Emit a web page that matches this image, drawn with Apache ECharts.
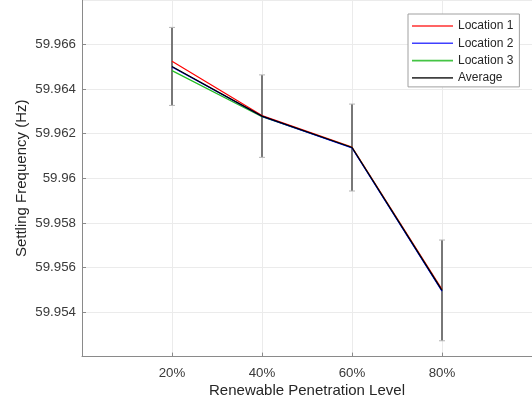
<!DOCTYPE html>
<html>
<head>
<meta charset="utf-8">
<script src="https://cdn.jsdelivr.net/npm/echarts@6/dist/echarts.min.js"></script>
<style>
html,body{margin:0;padding:0;background:#fff;}
#chart{width:532px;height:407px;}
</style>
</head>
<body>
<div id="chart"></div>
<script>
// Data
const categories = ['20%', '40%', '60%', '80%'];
const penetration = [20, 40, 60, 80];
const location1 = [59.96525, 59.96282, 59.96140, 59.95502];
const location2 = [59.96499, 59.96278, 59.96136, 59.95494];
const location3 = [59.96483, 59.96276, 59.96138, 59.95496];
const average   = [59.96502, 59.96279, 59.96138, 59.95497];
const errorHalf = [0.00175, 0.00185, 0.00195, 0.00226];
const seriesNames = ['Location 1', 'Location 2', 'Location 3', 'Average'];
const xTicks = [0, 20, 40, 60, 80, 100];
const yTicks = [59.952, 59.954, 59.956, 59.958, 59.96, 59.962, 59.964, 59.966, 59.968];

const pairs = arr => penetration.map((x, i) => [x, arr[i]]);
const errData = penetration.map((x, i) => [x, average[i] - errorHalf[i], average[i] + errorHalf[i]]);

const font = 'Liberation Sans, Arial, Helvetica, sans-serif';
const chart = echarts.init(document.getElementById('chart'), null, {renderer: 'canvas'});
const option = {
  animation: false,
  backgroundColor: '#ffffff',
  grid: {left: 82, top: 0, right: -1, bottom: 50.4, containLabel: false},
  xAxis: {
    type: 'value',
    min: xTicks[0], max: xTicks[xTicks.length - 1], interval: 20,
    name: 'Renewable Penetration Level',
    nameLocation: 'middle', nameGap: 27, nameMoveOverlap: false,
    nameTextStyle: {fontFamily: font, fontSize: 15, color: '#262626'},
    axisLine: {show: true, onZero: false, lineStyle: {color: '#8a8a8a', width: 1}},
    axisTick: {show: true, inside: true, length: 4, lineStyle: {color: '#8a8a8a'}},
    axisLabel: {
      fontFamily: font, fontSize: 13.3, color: '#3a3a3a', margin: 10,
      showMinLabel: false, showMaxLabel: false,
      formatter: v => { const i = penetration.indexOf(v); return i >= 0 ? categories[i] : ''; }
    },
    splitLine: {show: true, lineStyle: {color: '#ebebeb', width: 1}}
  },
  yAxis: {
    type: 'value',
    min: yTicks[0], max: yTicks[yTicks.length - 1], interval: 0.002,
    name: 'Settling Frequency (Hz)',
    nameLocation: 'middle', nameGap: 53, nameMoveOverlap: false,
    nameTextStyle: {fontFamily: font, fontSize: 15, color: '#262626'},
    axisLine: {show: true, lineStyle: {color: '#8a8a8a', width: 1}},
    axisTick: {show: true, inside: true, length: 4, lineStyle: {color: '#8a8a8a'}},
    axisLabel: {
      fontFamily: font, fontSize: 13.3, color: '#3a3a3a', margin: 6,
      showMinLabel: false, showMaxLabel: false,
      formatter: v => String(parseFloat(Number(v).toFixed(3)))
    },
    splitLine: {show: true, lineStyle: {color: '#ebebeb', width: 1}}
  },
  legend: {
    data: seriesNames,
    orient: 'vertical',
    left: 408, top: 14,
    padding: [5, 6, 2, 4],
    icon: 'rect',
    itemWidth: 41, itemHeight: 1.6, itemGap: 3.3,
    backgroundColor: '#ffffff',
    borderColor: '#a0a0a0', borderWidth: 1,
    textStyle: {fontFamily: font, fontSize: 12, color: '#262626', lineHeight: 14},
    selectedMode: false
  },
  series: [
    {
      type: 'custom', name: 'errorbar', z: 1,
      data: errData,
      encode: {x: 0, y: [1, 2]},
      renderItem: function (params, api) {
        const x = api.value(0);
        const top = api.coord([x, api.value(2)]);
        const bot = api.coord([x, api.value(1)]);
        const cap = 3;
        return {
          type: 'group',
          children: [
            {type: 'line', shape: {x1: top[0], y1: top[1], x2: bot[0], y2: bot[1]},
             style: {stroke: '#6a6a6a', lineWidth: 1.8}},
            {type: 'line', shape: {x1: top[0] - cap, y1: top[1], x2: top[0] + cap, y2: top[1]},
             style: {stroke: '#b5b5b5', lineWidth: 1}},
            {type: 'line', shape: {x1: bot[0] - cap, y1: bot[1], x2: bot[0] + cap, y2: bot[1]},
             style: {stroke: '#b5b5b5', lineWidth: 1}}
          ]
        };
      }
    },
    {type: 'line', name: seriesNames[0], data: pairs(location1), symbol: 'none', z: 3,
     itemStyle: {color: '#ff3030'}, lineStyle: {color: '#ff0000', width: 1.2}},
    {type: 'line', name: seriesNames[1], data: pairs(location2), symbol: 'none', z: 4,
     itemStyle: {color: '#4040ff'}, lineStyle: {color: '#0000ff', width: 1.2}},
    {type: 'line', name: seriesNames[2], data: pairs(location3), symbol: 'none', z: 3,
     itemStyle: {color: '#44c444'}, lineStyle: {color: '#22bb22', width: 1.2}},
    {type: 'line', name: seriesNames[3], data: pairs(average), symbol: 'none', z: 5,
     itemStyle: {color: '#404040'}, lineStyle: {color: '#000000', width: 1.2}}
  ]
};
chart.setOption(option);
</script>
</body>
</html>
